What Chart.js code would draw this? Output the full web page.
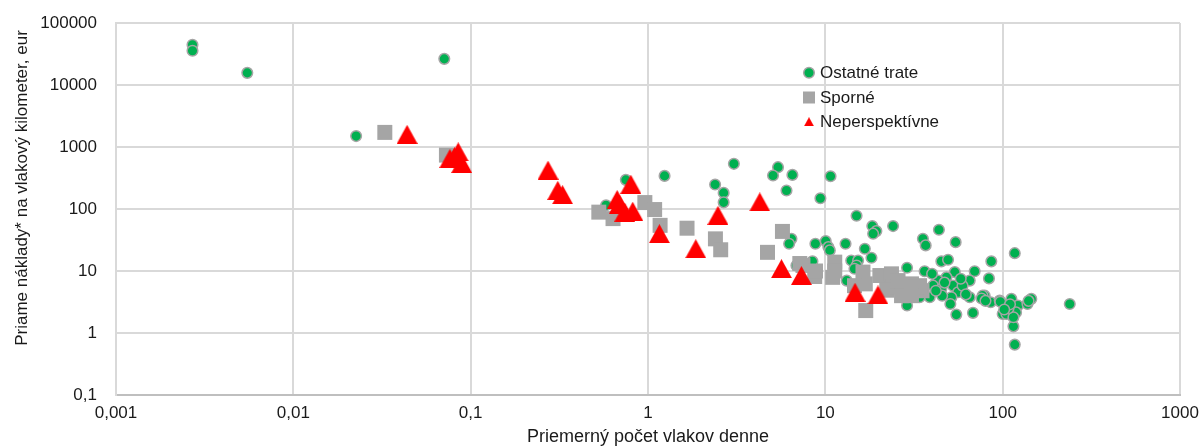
<!DOCTYPE html>
<html>
<head>
<meta charset="utf-8">
<script src="https://cdn.jsdelivr.net/npm/chart.js@4.4.1/dist/chart.umd.min.js"></script>
<style>
body{margin:0;background:#fff;}
#graf{display:block;}
</style>
</head>
<body>
<canvas id="graf" width="1203" height="448"></canvas>
<script>
// osi
const xTicks = [0.001, 0.01, 0.1, 1, 10, 100, 1000];
const xTickLabels = ["0,001", "0,01", "0,1", "1", "10", "100", "1000"];
const yTicks = [0.1, 1, 10, 100, 1000, 10000, 100000];
const yTickLabels = ["0,1", "1", "10", "100", "1000", "10000", "100000"];

const xTitle = "Priemerný počet vlakov denne";
const yTitle = "Priame náklady* na vlakový kilometer, eur";
const seriesNames = ["Ostatné trate", "Sporné", "Neperspektívne"];

// Ostatné trate
const ostatneX = [0.0027, 0.0027, 0.0055, 0.071, 0.0226, 0.58, 0.75, 1.24, 3.05, 2.39, 2.67, 2.67,
  5.41, 5.07, 6.52, 6.04, 10.7, 9.38, 15.0, 18.4, 19.4, 18.6, 24.1, 6.44, 6.25, 8.79, 10.05, 10.4,
  10.6, 13.0, 16.7, 18.2, 8.46, 6.87, 14.0, 15.3, 15.0, 14.6, 13.2, 43.7, 35.5, 36.8, 54.3, 117,
  28.9, 36.3, 45.1, 49.2, 69.5, 86.3, 83.7, 53.7, 65.2, 48.2, 43.3, 40.5, 45.1, 52.5, 56.0, 59.4,
  65.2, 51.4, 45.6, 38.8, 34.0, 28.9, 54.8, 68.0, 79.2, 85.6, 96.2, 100, 112, 122, 119, 115, 117,
  145, 138, 239, 50.7, 77, 105, 115, 97, 140, 31, 33, 30, 42, 47, 58, 62, 40, 76, 80, 108, 110, 102];
const ostatneY = [44500, 35600, 15700, 26400, 1500, 115, 295, 342, 535, 248, 182, 128,
  473, 347, 355, 199, 338, 149, 78, 53, 44, 40, 53, 33, 27.5, 27.5, 30.3, 24.3,
  21.5, 27.5, 22.9, 16.4, 14.3, 12.3, 14.8, 14.8, 12.3, 10.9, 7.0, 46.4, 33.2, 25.9, 29.2, 19.4,
  11.3, 9.9, 14.3, 15.2, 9.9, 14.3, 7.6, 9.6, 7.0, 7.9, 7.0, 5.8, 5.15, 5.8, 4.54, 5.8,
  3.77, 3.77, 4.0, 3.77, 3.77, 2.77, 1.98, 2.11, 4.0, 3.13, 3.33, 2.03, 3.55, 2.77, 2.15, 1.28, 0.65,
  3.55, 2.94, 2.94, 2.94, 4.0, 2.03, 1.79, 3.2, 3.3, 6.0, 5.0, 4.5, 4.8, 6.5, 7.5, 4.2, 9.0, 3.6, 3.3, 2.5, 2.9, 2.4];

// Sporné
const sporneX = [0.0328, 0.073, 0.528, 0.635, 0.96, 1.09, 1.17, 1.66, 2.40, 2.57, 5.73, 4.72,
  7.48, 8.71, 11.3, 11.3, 11.0, 16.3, 16.8, 16.9, 20.3, 23.6, 24.1, 22.2, 14.6, 25.7, 26.9,
  30.6, 35.1, 29.5, 34.0, 25.7, 32.3, 30.6, 7.18, 8.8];
const sporneY = [1720, 740, 89, 70, 127, 98, 54.5, 49, 33, 22, 43.5, 20,
  12.3, 8.15, 13.9, 10, 7.9, 9.6, 6.2, 2.3, 8.45, 9.0, 5.8, 4.9, 5.8, 5.5, 4.0,
  6.2, 4.8, 4.4, 5.8, 7.0, 5.5, 4.0, 13.2, 10];

// Neperspektívne
const nepX = [0.0438, 0.0851, 0.0764, 0.089, 0.081, 0.273, 0.31, 0.33, 0.80, 0.67, 0.69, 0.74, 0.82,
  1.16, 1.86, 2.48, 4.27, 5.66, 7.33, 14.7, 19.8];
const nepY = [1600, 836, 654, 543, 700, 423, 200, 170, 251, 142, 120, 89, 92,
  40, 22.9, 79, 130, 10.9, 8.45, 4.54, 4.12];

const font = "'Liberation Sans', Arial, sans-serif";
const zelena = "#00b050", siva = "#a5a5a5", cervena = "#ff0000";

function body(xs, ys){
  return xs.map((x, i) => ({x: x, y: ys[i]}));
}

// trojuholnik ako v exceli (stred = stred obdlznika)
function trojuholnik(w, h){
  const c = document.createElement("canvas");
  c.width = w; c.height = h;
  const g = c.getContext("2d");
  g.fillStyle = cervena;
  g.beginPath();
  g.moveTo(w / 2, 0);
  g.lineTo(w, h);
  g.lineTo(0, h);
  g.closePath();
  g.fill();
  return c;
}
const trojVelky = trojuholnik(21, 19);
const trojMaly = trojuholnik(10, 9);

const legendaPlugin = {
  id: "legenda",
  afterDraw(chart){
    const ctx = chart.ctx;
    ctx.save();
    // y titulok
    ctx.fillStyle = "#1a1a1a";
    ctx.font = "17px " + font;
    ctx.textAlign = "center";
    ctx.textBaseline = "middle";
    ctx.translate(22, 188);
    ctx.rotate(-Math.PI / 2);
    ctx.fillText(yTitle, 0, 0);
    ctx.restore();

    ctx.save();
    const lx = 809, tx = 820, ly = [72.7, 97.5, 121.7];
    ctx.fillStyle = zelena; ctx.strokeStyle = siva; ctx.lineWidth = 1.5;
    ctx.beginPath(); ctx.arc(lx, ly[0], 5.3, 0, Math.PI * 2); ctx.fill(); ctx.stroke();
    ctx.fillStyle = siva;
    ctx.fillRect(lx - 6, ly[1] - 6, 12, 12);
    ctx.drawImage(trojMaly, lx - 5, ly[2] - 4.5);
    ctx.fillStyle = "#1a1a1a";
    ctx.font = "17px " + font;
    ctx.textAlign = "left";
    ctx.textBaseline = "middle";
    seriesNames.forEach((n, i) => ctx.fillText(n, tx, ly[i] + 1));
    ctx.restore();
  }
};

new Chart(document.getElementById("graf"), {
  type: "scatter",
  data: {
    datasets: [
      {
        label: seriesNames[0],
        data: body(ostatneX, ostatneY),
        pointStyle: "circle",
        pointRadius: 5.3,
        pointBorderWidth: 1.5,
        backgroundColor: zelena,
        borderColor: siva,
        order: 3
      },
      {
        label: seriesNames[1],
        data: body(sporneX, sporneY),
        pointStyle: "rect",
        pointRadius: 10.6,
        pointBorderWidth: 0,
        backgroundColor: siva,
        borderColor: siva,
        order: 2
      },
      {
        label: seriesNames[2],
        data: body(nepX, nepY),
        pointStyle: trojVelky,
        backgroundColor: cervena,
        borderColor: cervena,
        order: 1
      }
    ]
  },
  options: {
    responsive: false,
    animation: false,
    events: [],
    layout: {padding: {top: 23, right: 23, left: 0, bottom: 0}},
    plugins: {legend: {display: false}, tooltip: {enabled: false}},
    scales: {
      x: {
        type: "logarithmic",
        min: 0.001,
        max: 1000,
        afterBuildTicks: s => { s.ticks = xTicks.map(v => ({value: v})); },
        afterFit: s => { s.height = 53; s.paddingLeft = 0; s.paddingRight = 0; },
        grid: {color: "#d9d9d9", lineWidth: 2, drawTicks: false},
        border: {color: "#bfbfbf", width: 2},
        ticks: {
          autoSkip: false, maxRotation: 0, padding: 8,
          color: "#1a1a1a",
          font: {family: font, size: 17},
          callback: (v, i) => xTickLabels[i]
        },
        title: {
          display: true, text: xTitle, color: "#1a1a1a",
          font: {family: font, size: 18}, padding: {top: 0, bottom: 0}
        }
      },
      y: {
        type: "logarithmic",
        min: 0.1,
        max: 100000,
        afterBuildTicks: s => { s.ticks = yTicks.map(v => ({value: v})); },
        afterFit: s => { s.width = 116; s.paddingTop = 0; s.paddingBottom = 0; },
        grid: {color: "#d9d9d9", lineWidth: 2, drawTicks: false},
        border: {color: "#d9d9d9", width: 2},
        ticks: {
          autoSkip: false, padding: 19,
          color: "#1a1a1a",
          font: {family: font, size: 17},
          callback: (v, i) => yTickLabels[i]
        }
      }
    }
  },
  plugins: [legendaPlugin]
});
</script>
</body>
</html>
